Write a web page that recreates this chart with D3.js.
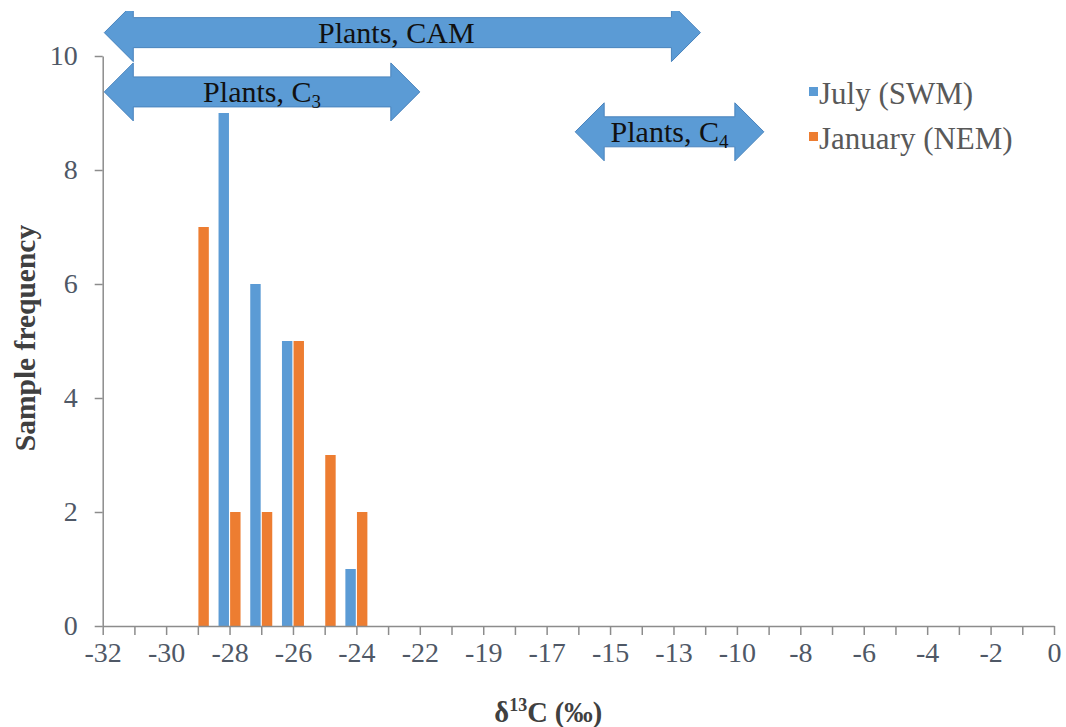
<!DOCTYPE html>
<html>
<head>
<meta charset="utf-8">
<script src="https://cdn.jsdelivr.net/npm/d3@7"></script>
<style>
  body { margin: 0; background: #fff; }
</style>
</head>
<body>
<div id="chart"></div>
<script>
// 31 categories on the x axis, every second one is labelled
const categories = [-32, -31, -30, -29, -28, -27, -26, -25, -24, -23, -22, -21, -19, -18, -17, -16,
  -15, -14, -13, -12, -10, -9, -8, -7, -6, -5, -4, -3, -2, -1, 0];
const tickLabels = ["-32", "-30", "-28", "-26", "-24", "-22", "-19", "-17", "-15", "-13", "-10", "-8", "-6", "-4", "-2", "0"];
const july    = [0, 0, 0, 0, 9, 6, 5, 0, 1, 0, 0, 0, 0, 0, 0, 0, 0, 0, 0, 0, 0, 0, 0, 0, 0, 0, 0, 0, 0, 0, 0];
const january = [0, 0, 0, 7, 2, 2, 5, 3, 2, 0, 0, 0, 0, 0, 0, 0, 0, 0, 0, 0, 0, 0, 0, 0, 0, 0, 0, 0, 0, 0, 0];
const seriesNames = ["July (SWM)", "January (NEM)"];
const yTicks = [0, 2, 4, 6, 8, 10];

// range arrows, in category-index units and frequency units
const arrowText  = ["Plants, CAM", "Plants, C", "Plants, C"];
const arrowSub   = ["", "3", "4"];
const arrowStart = [0.05, 0.05, 14.9];
const arrowEnd   = [18.85, 10.0, 20.85];
const arrowLevel = [10.41, 9.37, 8.67];

const width = 1066, height = 727;
const margin = { top: 56, left: 102.7, right: 12, bottom: 101 };
const colors = ["#5b9bd5", "#ed7d31"];
const serif = "'Times New Roman', 'Nimbus Roman', FreeSerif, serif";

const svg = d3.select("#chart").append("svg")
    .attr("width", width)
    .attr("height", height)
    .attr("font-family", serif);

const x = d3.scalePoint()
    .domain(d3.range(categories.length))
    .range([margin.left, width - margin.right]);
const xPos = d3.scaleLinear().domain([0, categories.length - 1]).range(x.range());
const y = d3.scaleLinear().domain([0, 10]).range([height - margin.bottom, margin.top]);
const sub = d3.scaleBand().domain([0, 1]).range([-11, 11]).paddingInner(0.1);

// bars
const rows = [july, january];
rows.forEach(function(vals, s) {
  svg.append("g").selectAll("rect")
    .data(vals.map(function(v, i) { return { i: i, v: v }; }).filter(function(d) { return d.v > 0; }))
    .enter().append("rect")
    .attr("x", function(d) { return x(d.i) + sub(s); })
    .attr("width", sub.bandwidth())
    .attr("y", function(d) { return y(d.v); })
    .attr("height", function(d) { return y(0) - y(d.v); })
    .attr("fill", colors[s]);
});

// axes
const axisColor = "#8c8c8c";
const labelColor = "#4f5866";

const xAxis = svg.append("g")
    .attr("transform", "translate(0," + y(0) + ")")
    .call(d3.axisBottom(x).tickSize(9).tickSizeOuter(0)
      .tickFormat(function(i) { return i % 2 === 0 ? tickLabels[i / 2] : ""; }));
xAxis.attr("font-family", serif);
xAxis.select(".domain").attr("stroke", axisColor).attr("stroke-width", 1.5);
xAxis.selectAll(".tick line").attr("stroke", axisColor).attr("stroke-width", 1.5);
xAxis.selectAll(".tick text")
    .attr("font-size", 28).attr("fill", labelColor).attr("dy", "0.85em");

const yAxis = svg.append("g")
    .attr("transform", "translate(" + margin.left + ",0)")
    .call(d3.axisLeft(y).tickValues(yTicks).tickSize(8).tickSizeOuter(0).tickPadding(17));
yAxis.attr("font-family", serif);
yAxis.select(".domain").attr("stroke", axisColor).attr("stroke-width", 1.5);
yAxis.selectAll(".tick line").attr("stroke", axisColor).attr("stroke-width", 1.5);
yAxis.selectAll(".tick text")
    .attr("font-size", 28).attr("fill", labelColor);

// axis titles
svg.append("text")
    .attr("transform", "translate(35," + (y(5) - 3) + ") rotate(-90)")
    .attr("text-anchor", "middle")
    .attr("font-size", 29.5).attr("font-weight", "bold").attr("fill", "#404040")
    .text("Sample frequency");

const xt = svg.append("text")
    .attr("x", (margin.left + width - margin.right) / 2 - 30)
    .attr("y", 722)
    .attr("text-anchor", "middle")
    .attr("font-size", 28.5).attr("font-weight", "bold").attr("fill", "#404040");
xt.append("tspan").text("δ");
xt.append("tspan").attr("font-size", 18).attr("dy", -11).text("13");
xt.append("tspan").attr("dy", 11).text("C (‰)");

// range arrows, clipped at the top like the original figure
svg.append("clipPath").attr("id", "clipTop")
  .append("rect").attr("x", 0).attr("y", 11).attr("width", width).attr("height", height);

const bh = 15, hh = 29, hl = 29;
const arrows = svg.append("g").attr("clip-path", "url(#clipTop)");
arrowText.forEach(function(t, k) {
  const x1 = xPos(arrowStart[k]), x2 = xPos(arrowEnd[k]), cy = y(arrowLevel[k]);
  const pts = [[x1, cy], [x1 + hl, cy - hh], [x1 + hl, cy - bh], [x2 - hl, cy - bh], [x2 - hl, cy - hh],
    [x2, cy], [x2 - hl, cy + hh], [x2 - hl, cy + bh], [x1 + hl, cy + bh], [x1 + hl, cy + hh]];
  arrows.append("path")
    .attr("d", d3.line()(pts) + "Z")
    .attr("fill", "#5b9bd5")
    .attr("stroke", "#4a84bd")
    .attr("stroke-width", 1);
  const lab = arrows.append("text")
    .attr("x", (x1 + x2) / 2 - (k === 0 ? 6 : 0))
    .attr("y", cy + 10)
    .attr("text-anchor", "middle")
    .attr("font-size", 30).attr("fill", "#111");
  lab.append("tspan").text(t);
  if (arrowSub[k]) lab.append("tspan").attr("font-size", 19).attr("dy", 6).text(arrowSub[k]);
});

// legend
const legend = svg.append("g").attr("transform", "translate(809,95)");
seriesNames.forEach(function(n, s) {
  const g = legend.append("g").attr("transform", "translate(0," + s * 45 + ")");
  g.append("rect").attr("x", 0).attr("y", -8).attr("width", 9).attr("height", 9).attr("fill", colors[s]);
  g.append("text").attr("x", 10).attr("y", 9)
    .attr("font-size", 31).attr("fill", "#595959").text(n);
});
</script>
</body>
</html>
